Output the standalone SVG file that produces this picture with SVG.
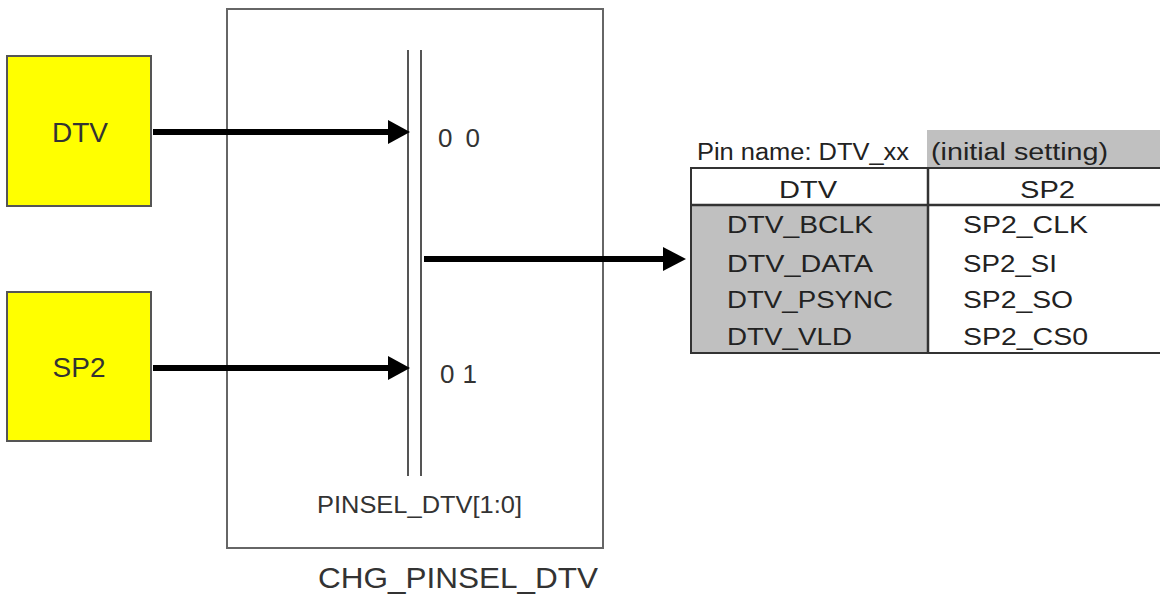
<svg xmlns="http://www.w3.org/2000/svg" width="1160" height="599" viewBox="0 0 1160 599">
<style>
.src{fill:#ffff00;stroke:#555;stroke-width:2}
.lbl{font-family:"Liberation Sans",Arial,sans-serif;fill:#333}
.tbl{font-family:"Liberation Sans",Arial,sans-serif;fill:#222;font-size:23px}
.wire{stroke:#000;stroke-width:6;fill:none}
.head{fill:#000}
.frame{fill:none;stroke:#666;stroke-width:2}
</style>
<rect width="1160" height="599" fill="#fff"/>
<g id="DTV">
<rect class="src" x="7" y="56" width="144" height="150"/>
<text class="lbl" x="80" y="142" font-size="28" text-anchor="middle" fill="#222">DTV</text>
</g>
<g id="SP2">
<rect class="src" x="7" y="292" width="144" height="149"/>
<text class="lbl" x="79" y="377" font-size="28" text-anchor="middle" fill="#222">SP2</text>
</g>
<g id="CHG_PINSEL_DTV">
<rect class="frame" x="227" y="9" width="376" height="539"/>
<line x1="408" y1="50" x2="408" y2="476" stroke="#555" stroke-width="2"/>
<line x1="421" y1="50" x2="421" y2="476" stroke="#555" stroke-width="2"/>
<text class="lbl" x="438" y="147" font-size="26" textLength="42" lengthAdjust="spacing">0 0</text>
<text class="lbl" x="440" y="383" font-size="26" textLength="37" lengthAdjust="spacing">0 1</text>
<text class="lbl" x="317" y="513" font-size="24" textLength="205" lengthAdjust="spacingAndGlyphs">PINSEL_DTV[1:0]</text>
<text class="lbl" x="318" y="588" font-size="30" textLength="280" lengthAdjust="spacingAndGlyphs" fill="#444">CHG_PINSEL_DTV</text>
</g>
<g id="connectors">
<line class="wire" x1="153" y1="132" x2="390" y2="132"/>
<polygon class="head" points="388,120 410,132 388,144"/>
<line class="wire" x1="153" y1="368" x2="390" y2="368"/>
<polygon class="head" points="388,356 410,368 388,380"/>
<line class="wire" x1="424" y1="259" x2="665" y2="259"/>
<polygon class="head" points="663,247 686,259 663,271"/>
</g>
<g id="pin-table">
<rect x="927" y="130" width="233" height="38" fill="#c0c0c0"/>
<rect x="691" y="205" width="237" height="148" fill="#c0c0c0"/>
<rect x="691" y="168" width="480" height="185" fill="none" stroke="#333" stroke-width="2"/>
<line x1="691" y1="205" x2="1160" y2="205" stroke="#333" stroke-width="2.5"/>
<line x1="928" y1="168" x2="928" y2="353" stroke="#333" stroke-width="2.5"/>
<text class="tbl" x="697" y="160" font-size="21" textLength="212" lengthAdjust="spacingAndGlyphs" fill="#111">Pin name: DTV_xx</text>
<text class="tbl" x="931" y="160" font-size="22" textLength="177" lengthAdjust="spacingAndGlyphs">(initial setting)</text>
<text class="tbl" x="779" y="198" textLength="58" lengthAdjust="spacingAndGlyphs">DTV</text>
<text class="tbl" x="1020" y="198" textLength="55" lengthAdjust="spacingAndGlyphs">SP2</text>
<text class="tbl" x="727" y="233" textLength="146" lengthAdjust="spacingAndGlyphs">DTV_BCLK</text>
<text class="tbl" x="727" y="272" textLength="146" lengthAdjust="spacingAndGlyphs">DTV_DATA</text>
<text class="tbl" x="727" y="308" textLength="166" lengthAdjust="spacingAndGlyphs">DTV_PSYNC</text>
<text class="tbl" x="727" y="345" textLength="125" lengthAdjust="spacingAndGlyphs">DTV_VLD</text>
<text class="tbl" x="963" y="233" textLength="125" lengthAdjust="spacingAndGlyphs">SP2_CLK</text>
<text class="tbl" x="963" y="272" textLength="94" lengthAdjust="spacingAndGlyphs">SP2_SI</text>
<text class="tbl" x="963" y="308" textLength="110" lengthAdjust="spacingAndGlyphs">SP2_SO</text>
<text class="tbl" x="963" y="345" textLength="125" lengthAdjust="spacingAndGlyphs">SP2_CS0</text>
</g>
</svg>
